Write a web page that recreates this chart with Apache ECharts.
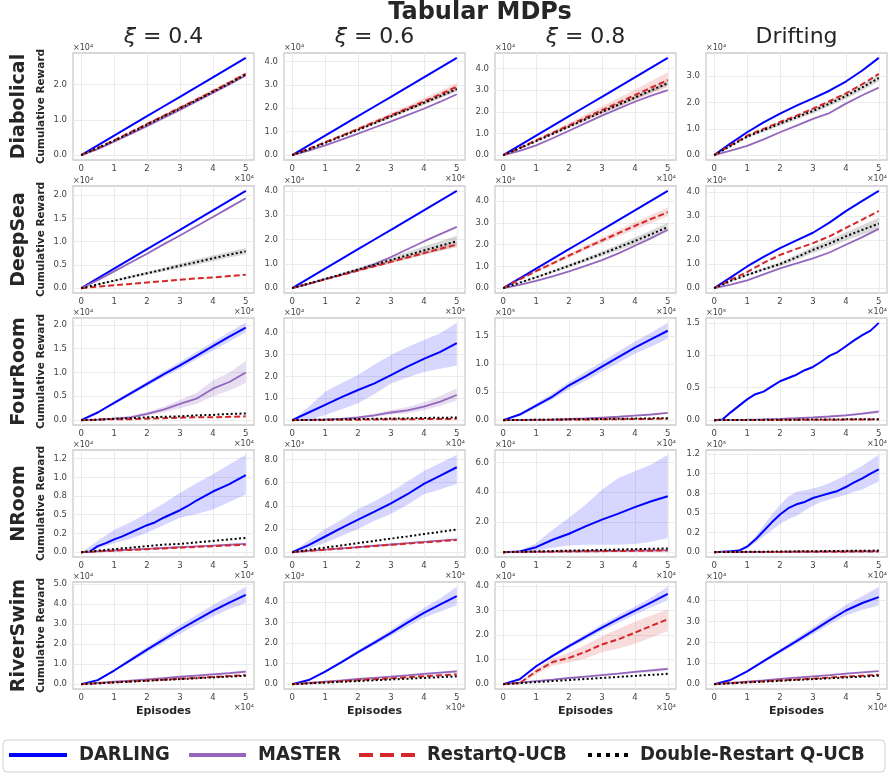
<!DOCTYPE html>
<html><head><meta charset="utf-8">
<script src="https://cdn.jsdelivr.net/npm/echarts@6/dist/echarts.min.js"></script>
<style>html,body{margin:0;padding:0;background:#fff}#c{width:888px;height:773px}</style>
</head><body><div id="c"></div>
<script>
// ---------- x grids (episodes) ----------
const EP11 = [0,5000,10000,15000,20000,25000,30000,35000,40000,45000,50000];
const EP21 = [0,2500,5000,7500,10000,12500,15000,17500,20000,22500,25000,27500,30000,32500,35000,37500,40000,42500,45000,47500,50000];
const X_TICKS = [0,10000,20000,30000,40000,50000];

const SERIES_NAMES = ['DARLING','MASTER','RestartQ-UCB','Double-Restart Q-UCB'];
const ROW_NAMES = ['Diabolical','DeepSea','FourRoom','NRoom','RiverSwim'];
const COL_TITLES = ['0.4','0.6','0.8','Drifting'];

// ---------- y tick sets (displayed units) ----------
const T_0_2 = [0,1,2];
const T_0_3 = [0,1,2,3];
const T_0_4 = [0,1,2,3,4];
const T_0_5 = [0,1,2,3,4,5];
const T_H_2 = [0,0.5,1,1.5,2];
const T_H_15 = [0,0.5,1,1.5];
const T_Q_125 = [0,0.25,0.5,0.75,1,1.25];
const T_E_8 = [0,2,4,6,8];
const T_E_6 = [0,2,4,6];

// ---------- Diabolical (x10^4) ----------
const diab04_darling = [0,0.275,0.55,0.825,1.1,1.375,1.65,1.925,2.2,2.475,2.75];
const diab04_master  = [0,0.17,0.38,0.6,0.82,1.05,1.28,1.52,1.76,2.0,2.25];
const diab04_restart = [0,0.2,0.42,0.65,0.88,1.11,1.34,1.57,1.81,2.05,2.3];
const diab04_double  = [0,0.2,0.41,0.63,0.86,1.09,1.32,1.55,1.79,2.03,2.28];
const diab04_restart_lo = [0,0.19,0.41,0.63,0.86,1.08,1.31,1.53,1.77,2.0,2.25];
const diab04_restart_hi = [0,0.21,0.43,0.67,0.9,1.14,1.37,1.61,1.85,2.1,2.35];

const diab06_darling = [0,0.415,0.83,1.245,1.66,2.075,2.49,2.905,3.32,3.735,4.15];
const diab06_master  = [0,0.19,0.42,0.66,0.92,1.18,1.44,1.71,1.98,2.28,2.6];
const diab06_restart = [0,0.27,0.55,0.83,1.12,1.41,1.7,1.99,2.29,2.6,2.92];
const diab06_double  = [0,0.25,0.52,0.8,1.08,1.36,1.65,1.94,2.23,2.52,2.82];
const diab06_restart_lo = [0,0.26,0.52,0.79,1.06,1.33,1.6,1.87,2.15,2.45,2.75];
const diab06_restart_hi = [0,0.28,0.58,0.87,1.18,1.49,1.8,2.11,2.43,2.75,3.08];
const diab06_double_lo = [0,0.24,0.5,0.77,1.04,1.31,1.59,1.87,2.15,2.43,2.72];
const diab06_double_hi = [0,0.26,0.54,0.83,1.12,1.41,1.71,2.01,2.31,2.61,2.92];

const diab08_darling = [0,0.45,0.9,1.35,1.8,2.25,2.7,3.15,3.6,4.05,4.5];
const diab08_master  = [0,0.2,0.45,0.78,1.13,1.48,1.83,2.15,2.47,2.75,3.01];
const diab08_restart = [0,0.33,0.68,1.03,1.38,1.73,2.08,2.43,2.78,3.13,3.48];
const diab08_double  = [0,0.32,0.65,0.98,1.32,1.66,2.0,2.33,2.66,3.0,3.33];
const diab08_restart_lo = [0,0.3,0.62,0.94,1.26,1.58,1.9,2.22,2.53,2.85,3.15];
const diab08_restart_hi = [0,0.36,0.74,1.12,1.5,1.88,2.26,2.64,3.03,3.43,3.83];
const diab08_double_lo = [0,0.31,0.62,0.94,1.27,1.6,1.93,2.25,2.57,2.9,3.22];
const diab08_double_hi = [0,0.33,0.68,1.02,1.37,1.72,2.07,2.41,2.75,3.1,3.44];

const diabDr_darling = [0,0.45,0.87,1.25,1.58,1.88,2.16,2.45,2.8,3.22,3.7];
const diabDr_master  = [0,0.17,0.35,0.6,0.87,1.12,1.38,1.6,1.96,2.28,2.57];
const diabDr_restart = [0,0.38,0.74,1.0,1.26,1.5,1.77,2.05,2.35,2.7,3.09];
const diabDr_double  = [0,0.35,0.7,0.95,1.2,1.44,1.68,1.96,2.25,2.58,2.93];
const diabDr_double_lo = [0,0.32,0.65,0.88,1.12,1.35,1.58,1.86,2.14,2.46,2.8];
const diabDr_double_hi = [0,0.38,0.75,1.02,1.28,1.53,1.78,2.06,2.36,2.7,3.06];

// ---------- DeepSea (x10^4) ----------
const deep04_darling = [0,0.209,0.418,0.627,0.836,1.045,1.254,1.463,1.672,1.881,2.09];
const deep04_master  = [0,0.17,0.36,0.55,0.74,0.94,1.13,1.33,1.53,1.73,1.93];
const deep04_restart = [0,0.03,0.06,0.09,0.12,0.15,0.18,0.21,0.23,0.26,0.29];
const deep04_double  = [0,0.08,0.16,0.24,0.32,0.4,0.48,0.56,0.64,0.72,0.79];
const deep04_double_lo = [0,0.07,0.14,0.21,0.29,0.36,0.43,0.5,0.58,0.66,0.73];
const deep04_double_hi = [0,0.09,0.18,0.27,0.35,0.44,0.53,0.62,0.7,0.78,0.86];

const deep06_darling = [0,0.4,0.8,1.2,1.6,2.0,2.4,2.8,3.2,3.6,4.0];
const deep06_master  = [0,0.18,0.37,0.55,0.74,0.99,1.28,1.6,1.92,2.22,2.52];
const deep06_restart = [0,0.18,0.36,0.54,0.72,0.9,1.08,1.26,1.44,1.62,1.79];
const deep06_double  = [0,0.19,0.38,0.57,0.77,0.96,1.16,1.35,1.55,1.74,1.93];
const deep06_restart_lo = [0,0.17,0.34,0.51,0.68,0.85,1.02,1.19,1.36,1.53,1.68];
const deep06_restart_hi = [0,0.19,0.38,0.57,0.76,0.95,1.14,1.33,1.52,1.71,1.9];
const deep06_double_lo = [0,0.17,0.35,0.52,0.7,0.87,1.04,1.21,1.38,1.55,1.72];
const deep06_double_hi = [0,0.21,0.41,0.62,0.84,1.05,1.28,1.49,1.72,1.93,2.15];

const deep08_darling = [0,0.447,0.894,1.341,1.788,2.235,2.682,3.129,3.576,4.023,4.47];
const deep08_master  = [0,0.15,0.33,0.54,0.77,1.02,1.29,1.6,1.95,2.3,2.68];
const deep08_restart = [0,0.4,0.78,1.14,1.5,1.85,2.19,2.53,2.86,3.18,3.49];
const deep08_double  = [0,0.25,0.5,0.76,1.03,1.3,1.58,1.87,2.17,2.48,2.81];
const deep08_restart_lo = [0,0.38,0.74,1.08,1.41,1.74,2.06,2.38,2.69,3.0,3.3];
const deep08_restart_hi = [0,0.42,0.82,1.2,1.58,1.95,2.32,2.68,3.03,3.37,3.7];
const deep08_double_lo = [0,0.23,0.46,0.7,0.95,1.2,1.46,1.73,2.01,2.3,2.6];
const deep08_double_hi = [0,0.27,0.54,0.82,1.11,1.4,1.7,2.01,2.33,2.66,3.0];

const deepDr_darling = [0,0.45,0.9,1.3,1.66,1.98,2.3,2.72,3.2,3.62,4.04];
const deepDr_master  = [0,0.15,0.32,0.57,0.82,1.03,1.24,1.48,1.8,2.12,2.46];
const deepDr_restart = [0,0.35,0.67,1.05,1.38,1.63,1.87,2.15,2.5,2.85,3.2];
const deepDr_double  = [0,0.3,0.55,0.78,1.0,1.28,1.59,1.85,2.15,2.42,2.68];
const deepDr_double_lo = [0,0.27,0.5,0.71,0.91,1.17,1.46,1.7,1.98,2.22,2.45];
const deepDr_double_hi = [0,0.33,0.6,0.85,1.09,1.39,1.72,2.0,2.32,2.62,2.92];

// ---------- FourRoom ----------
const four04_darling = [0,0.16,0.36,0.56,0.76,0.96,1.15,1.35,1.55,1.75,1.94];
const four04_master  = [0,0.01,0.03,0.06,0.13,0.22,0.34,0.45,0.66,0.8,1.0];
const four04_restart = [0,0.01,0.02,0.02,0.03,0.04,0.05,0.06,0.06,0.07,0.08];
const four04_double  = [0,0.01,0.03,0.04,0.06,0.07,0.08,0.1,0.11,0.13,0.14];
const four04_darling_lo = [0,0.14,0.33,0.52,0.71,0.9,1.08,1.27,1.46,1.65,1.84];
const four04_darling_hi = [0,0.18,0.39,0.6,0.81,1.02,1.22,1.43,1.64,1.85,2.04];
const four04_master_lo = [0,0.005,0.02,0.04,0.09,0.16,0.25,0.34,0.5,0.62,0.78];
const four04_master_hi = [0,0.02,0.05,0.09,0.17,0.28,0.43,0.57,0.83,1.0,1.24];

const four06_darling = [0,0.35,0.7,1.05,1.38,1.68,2.06,2.45,2.8,3.12,3.52];
const four06_master  = [0,0.01,0.03,0.06,0.12,0.22,0.35,0.45,0.62,0.85,1.15];
const four06_restart = [0,0.01,0.01,0.02,0.02,0.03,0.04,0.04,0.05,0.05,0.06];
const four06_double  = [0,0.01,0.02,0.04,0.05,0.06,0.07,0.08,0.1,0.11,0.12];
const four06_darling_lo = [0,0.02,0.23,0.5,0.77,1.2,1.68,1.95,2.2,2.35,2.5];
const four06_darling_hi = [0,0.6,1.3,1.7,2.06,2.55,2.98,3.35,3.67,3.98,4.45];
const four06_master_lo = [0,0.005,0.02,0.04,0.08,0.15,0.25,0.32,0.45,0.65,0.9];
const four06_master_hi = [0,0.02,0.05,0.09,0.17,0.3,0.46,0.6,0.82,1.1,1.45];

// (x10^5)
const four08_darling = [0,0.1,0.26,0.42,0.62,0.78,0.95,1.12,1.29,1.44,1.59];
const four08_master  = [0,0.002,0.005,0.01,0.02,0.03,0.045,0.06,0.08,0.1,0.13];
const four08_restart = [0,0.002,0.005,0.007,0.01,0.012,0.015,0.017,0.02,0.022,0.025];
const four08_double  = [0,0.003,0.007,0.01,0.014,0.017,0.021,0.024,0.028,0.031,0.035];
const four08_darling_lo = [0,0.07,0.22,0.37,0.55,0.7,0.86,1.02,1.18,1.31,1.45];
const four08_darling_hi = [0,0.12,0.3,0.48,0.68,0.86,1.04,1.22,1.4,1.56,1.73];

// (x10^5)
const fourDr_darling = [0,0.01,0.12,0.22,0.32,0.4,0.44,0.52,0.6,0.65,0.7,0.77,0.82,0.9,0.99,1.05,1.14,1.23,1.31,1.38,1.5];
const fourDr_master  = [0,0.003,0.007,0.012,0.02,0.03,0.042,0.056,0.075,0.1,0.13];
const fourDr_restart = [0,0.001,0.002,0.003,0.004,0.005,0.006,0.007,0.008,0.009,0.01];
const fourDr_double  = [0,0.0015,0.003,0.0045,0.006,0.0075,0.009,0.0105,0.012,0.0135,0.015];
const fourDr_master_lo = [0,0.002,0.005,0.009,0.015,0.023,0.033,0.045,0.06,0.08,0.105];
const fourDr_master_hi = [0,0.004,0.009,0.015,0.025,0.037,0.051,0.067,0.09,0.12,0.155];

// ---------- NRoom ----------
// (x10^4)
const nroom04_darling = [0,0.005,0.08,0.12,0.17,0.21,0.26,0.31,0.36,0.4,0.46,0.51,0.56,0.62,0.69,0.75,0.81,0.86,0.91,0.97,1.03];
const nroom04_master  = [0,0.011,0.022,0.033,0.044,0.055,0.066,0.077,0.088,0.099,0.11];
const nroom04_restart = [0,0.01,0.02,0.03,0.04,0.05,0.06,0.07,0.08,0.09,0.1];
const nroom04_double  = [0,0.02,0.04,0.06,0.08,0.1,0.11,0.13,0.15,0.17,0.19];
const nroom04_darling_lo = [0,0.05,0.12,0.18,0.26,0.36,0.46,0.51,0.57,0.67,0.77];
const nroom04_darling_hi = [0,0.15,0.3,0.4,0.52,0.65,0.79,0.92,1.04,1.17,1.3];

// (x10^3)
const nroom06_darling = [0,0.6,1.35,2.1,2.8,3.5,4.22,5.0,5.9,6.6,7.33];
const nroom06_master  = [0,0.11,0.22,0.33,0.44,0.55,0.66,0.77,0.88,0.99,1.1];
const nroom06_restart = [0,0.105,0.21,0.315,0.42,0.525,0.63,0.735,0.84,0.945,1.05];
const nroom06_double  = [0,0.19,0.39,0.58,0.78,0.97,1.17,1.36,1.56,1.75,1.95];
const nroom06_darling_lo = [0,0.3,0.8,1.4,2.0,2.7,3.3,4.1,5.0,5.4,5.9];
const nroom06_darling_hi = [0,1.0,2.0,2.8,3.7,4.4,5.2,6.1,7.0,7.7,8.4];

// (x10^4)
const nroom08_darling = [0,0.04,0.33,0.83,1.23,1.72,2.17,2.57,3.01,3.4,3.73];
const nroom08_master  = [0,0.012,0.024,0.036,0.048,0.06,0.072,0.084,0.096,0.108,0.12];
const nroom08_restart = [0,0.011,0.022,0.033,0.044,0.055,0.066,0.077,0.088,0.099,0.11];
const nroom08_double  = [0,0.025,0.05,0.075,0.1,0.125,0.15,0.175,0.2,0.225,0.25];
const nroom08_darling_lo = [0,0,0.1,0.3,0.45,0.5,0.5,0.5,0.55,0.7,0.94];
const nroom08_darling_hi = [0,0.1,0.6,1.5,2.3,3.17,4.17,4.96,5.4,5.85,6.5];

// (x10^5)
const nroomDr_darling = [0,0.005,0.01,0.02,0.07,0.16,0.27,0.38,0.48,0.56,0.61,0.64,0.69,0.72,0.75,0.78,0.83,0.89,0.94,1.0,1.055];
const nroomDr_master  = [0,0.001,0.002,0.003,0.004,0.005,0.006,0.007,0.008,0.009,0.01];
const nroomDr_restart = [0,0.0008,0.0016,0.0024,0.0032,0.004,0.0048,0.0056,0.0064,0.0072,0.008];
const nroomDr_double  = [0,0.002,0.004,0.006,0.008,0.01,0.012,0.014,0.016,0.018,0.02];
const nroomDr_darling_lo = [0,0,0,0,0.05,0.12,0.2,0.28,0.36,0.42,0.46,0.53,0.59,0.64,0.67,0.7,0.73,0.77,0.8,0.85,0.9];
const nroomDr_darling_hi = [0,0.01,0.02,0.03,0.09,0.2,0.34,0.48,0.6,0.71,0.77,0.79,0.81,0.84,0.88,0.93,0.98,1.04,1.1,1.17,1.24];

// ---------- RiverSwim (x10^4) ----------
const river04_darling = [0,0.2,0.68,1.2,1.72,2.22,2.73,3.2,3.66,4.07,4.46];
const river04_master  = [0,0.06,0.12,0.18,0.24,0.3,0.37,0.43,0.49,0.55,0.62];
const river04_restart = [0,0.045,0.09,0.135,0.18,0.225,0.27,0.315,0.36,0.405,0.45];
const river04_double  = [0,0.042,0.084,0.126,0.168,0.21,0.252,0.294,0.336,0.378,0.42];
const river04_darling_lo = [0,0.18,0.62,1.1,1.58,2.05,2.52,2.96,3.38,3.75,4.06];
const river04_darling_hi = [0,0.22,0.74,1.3,1.86,2.4,2.94,3.45,3.95,4.4,4.86];
const river04_master_lo = [0,0.055,0.11,0.16,0.22,0.27,0.33,0.39,0.44,0.49,0.55];
const river04_master_hi = [0,0.065,0.13,0.2,0.26,0.33,0.41,0.47,0.54,0.61,0.69];

const river06_darling = [0,0.2,0.61,1.08,1.56,2.03,2.5,3.0,3.48,3.9,4.3];
const river06_master  = [0,0.06,0.12,0.18,0.25,0.31,0.37,0.43,0.5,0.56,0.62];
const river06_restart = [0,0.048,0.096,0.144,0.192,0.24,0.288,0.336,0.384,0.432,0.48];
const river06_double  = [0,0.038,0.076,0.114,0.152,0.19,0.228,0.266,0.304,0.342,0.38];
const river06_darling_lo = [0,0.18,0.57,1.02,1.47,1.91,2.35,2.8,3.24,3.55,3.85];
const river06_darling_hi = [0,0.22,0.65,1.14,1.65,2.15,2.65,3.2,3.72,4.2,4.75];
const river06_master_lo = [0,0.055,0.11,0.16,0.22,0.27,0.33,0.39,0.44,0.49,0.55];
const river06_master_hi = [0,0.065,0.13,0.2,0.26,0.33,0.41,0.47,0.54,0.61,0.69];

const river08_darling = [0,0.2,0.73,1.15,1.55,1.93,2.31,2.66,3.0,3.34,3.68];
const river08_master  = [0,0.06,0.12,0.18,0.25,0.31,0.37,0.43,0.5,0.56,0.62];
const river08_restart = [0,0.04,0.52,0.9,1.07,1.32,1.62,1.83,2.1,2.38,2.65];
const river08_double  = [0,0.042,0.084,0.126,0.168,0.21,0.252,0.294,0.336,0.378,0.42];
const river08_darling_lo = [0,0.18,0.68,1.08,1.46,1.82,2.18,2.51,2.83,3.14,3.42];
const river08_darling_hi = [0,0.22,0.78,1.22,1.64,2.04,2.44,2.81,3.17,3.54,3.97];
const river08_restart_lo = [0,0,0.4,0.75,0.88,1.05,1.3,1.45,1.65,1.9,2.17];
const river08_restart_hi = [0,0.08,0.62,1.05,1.28,1.6,1.95,2.25,2.55,2.8,3.05];
const river08_master_lo = [0,0.055,0.11,0.16,0.22,0.27,0.33,0.39,0.44,0.49,0.55];
const river08_master_hi = [0,0.065,0.13,0.2,0.26,0.33,0.41,0.47,0.54,0.61,0.69];

const riverDr_darling = [0,0.2,0.61,1.1,1.58,2.06,2.55,3.05,3.52,3.88,4.16];
const riverDr_master  = [0,0.06,0.12,0.18,0.25,0.31,0.37,0.43,0.5,0.56,0.62];
const riverDr_restart = [0,0.045,0.09,0.135,0.18,0.225,0.27,0.315,0.36,0.405,0.45];
const riverDr_double  = [0,0.04,0.08,0.12,0.16,0.2,0.24,0.28,0.32,0.36,0.4];
const riverDr_darling_lo = [0,0.18,0.57,1.03,1.48,1.93,2.38,2.85,3.28,3.55,3.76];
const riverDr_darling_hi = [0,0.22,0.65,1.17,1.68,2.19,2.72,3.25,3.78,4.2,4.65];

// ---------- panel list (row-major) ----------
const PANELS = [
  {lines:[diab04_darling,diab04_master,diab04_restart,diab04_double], bands:[[2,diab04_restart_lo,diab04_restart_hi]], yt:T_0_2, exp:'4'},
  {lines:[diab06_darling,diab06_master,diab06_restart,diab06_double], bands:[[2,diab06_restart_lo,diab06_restart_hi],[3,diab06_double_lo,diab06_double_hi]], yt:T_0_4, exp:'4'},
  {lines:[diab08_darling,diab08_master,diab08_restart,diab08_double], bands:[[2,diab08_restart_lo,diab08_restart_hi],[3,diab08_double_lo,diab08_double_hi]], yt:T_0_4, exp:'4'},
  {lines:[diabDr_darling,diabDr_master,diabDr_restart,diabDr_double], bands:[[3,diabDr_double_lo,diabDr_double_hi]], yt:T_0_3, exp:'4'},

  {lines:[deep04_darling,deep04_master,deep04_restart,deep04_double], bands:[[3,deep04_double_lo,deep04_double_hi]], yt:T_H_2, exp:'4'},
  {lines:[deep06_darling,deep06_master,deep06_restart,deep06_double], bands:[[2,deep06_restart_lo,deep06_restart_hi],[3,deep06_double_lo,deep06_double_hi]], yt:T_0_4, exp:'4'},
  {lines:[deep08_darling,deep08_master,deep08_restart,deep08_double], bands:[[2,deep08_restart_lo,deep08_restart_hi],[3,deep08_double_lo,deep08_double_hi]], yt:T_0_4, exp:'4'},
  {lines:[deepDr_darling,deepDr_master,deepDr_restart,deepDr_double], bands:[[3,deepDr_double_lo,deepDr_double_hi]], yt:T_0_4, exp:'4'},

  {lines:[four04_darling,four04_master,four04_restart,four04_double], bands:[[0,four04_darling_lo,four04_darling_hi],[1,four04_master_lo,four04_master_hi]], yt:T_H_2, exp:'4'},
  {lines:[four06_darling,four06_master,four06_restart,four06_double], bands:[[0,four06_darling_lo,four06_darling_hi],[1,four06_master_lo,four06_master_hi]], yt:T_0_4, exp:'4'},
  {lines:[four08_darling,four08_master,four08_restart,four08_double], bands:[[0,four08_darling_lo,four08_darling_hi]], yt:T_H_15, exp:'5'},
  {lines:[fourDr_darling,fourDr_master,fourDr_restart,fourDr_double], bands:[[1,fourDr_master_lo,fourDr_master_hi]], yt:T_H_15, exp:'5'},

  {lines:[nroom04_darling,nroom04_master,nroom04_restart,nroom04_double], bands:[[0,nroom04_darling_lo,nroom04_darling_hi]], yt:T_Q_125, exp:'4'},
  {lines:[nroom06_darling,nroom06_master,nroom06_restart,nroom06_double], bands:[[0,nroom06_darling_lo,nroom06_darling_hi]], yt:T_E_8, exp:'3'},
  {lines:[nroom08_darling,nroom08_master,nroom08_restart,nroom08_double], bands:[[0,nroom08_darling_lo,nroom08_darling_hi]], yt:T_E_6, exp:'4'},
  {lines:[nroomDr_darling,nroomDr_master,nroomDr_restart,nroomDr_double], bands:[[0,nroomDr_darling_lo,nroomDr_darling_hi]], yt:T_Q_125, exp:'5'},

  {lines:[river04_darling,river04_master,river04_restart,river04_double], bands:[[0,river04_darling_lo,river04_darling_hi],[1,river04_master_lo,river04_master_hi]], yt:T_0_5, exp:'4'},
  {lines:[river06_darling,river06_master,river06_restart,river06_double], bands:[[0,river06_darling_lo,river06_darling_hi],[1,river06_master_lo,river06_master_hi]], yt:T_0_4, exp:'4'},
  {lines:[river08_darling,river08_master,river08_restart,river08_double], bands:[[0,river08_darling_lo,river08_darling_hi],[2,river08_restart_lo,river08_restart_hi],[1,river08_master_lo,river08_master_hi]], yt:T_0_4, exp:'4'},
  {lines:[riverDr_darling,riverDr_master,riverDr_restart,riverDr_double], bands:[[0,riverDr_darling_lo,riverDr_darling_hi]], yt:T_0_4, exp:'4'}
];

// ---------- styles & layout ----------
const COLORS = ['#0000ff','#9467bd','#d62728','#000000'];
const BAND_COLORS = ['rgba(0,0,255,0.16)','rgba(148,103,189,0.22)','rgba(214,39,40,0.17)','rgba(0,0,0,0.15)'];
const LINE_TYPES = ['solid','solid',[6,3],[2,2.4]];
const LINE_WIDTHS = [2,1.8,2,2];
const LEFTS = [73,284,495,706], TOPS = [53,186,318,450,582], GW = 181, GH = 107;
const FONT = 'DejaVu Sans';
const TXT = '#262626';
const SUP = {'3':'³','4':'⁴','5':'⁵'};

function xsFor(arr){ return arr.length === 21 ? EP21 : EP11; }
function pairs(arr){ const xs = xsFor(arr); return arr.map((v,i)=>[xs[i], v]); }
function fmt1(v){
  const r = v*10, f = Math.floor(r+1e-9);
  let n;
  if (Math.abs(r-f-0.5) < 1e-6) n = (f%2===0) ? f : f+1; else n = Math.round(r);
  return (n/10).toFixed(1);
}

const grids=[], xAxes=[], yAxes=[], series=[], graphics=[];

PANELS.forEach((p,k)=>{
  const r = Math.floor(k/4), c = k%4;
  grids.push({left:LEFTS[c], top:TOPS[r], width:GW, height:GH, show:true,
    borderColor:'#cccccc', borderWidth:1.3, backgroundColor:'#ffffff', containLabel:false, outerBoundsMode:'none'});
  let all = [];
  p.lines.forEach(a=>all=all.concat(a));
  p.bands.forEach(b=>{all=all.concat(b[1]); all=all.concat(b[2]);});
  const dmin = Math.min(...all), dmax = Math.max(...all);
  const pad = (dmax-dmin)*0.05;
  xAxes.push({gridIndex:k, type:'value', min:-2500, max:52500,
    axisLine:{show:false}, axisTick:{show:false, customValues:X_TICKS},
    axisLabel:{customValues:X_TICKS, formatter:v=>String(Math.round(v/10000)), fontSize:8.5, color:'#444', margin:4, fontFamily:FONT},
    splitLine:{show:true, lineStyle:{color:'#ebebeb', width:1}}});
  yAxes.push({gridIndex:k, type:'value', min:dmin-pad, max:dmax+pad,
    axisLine:{show:false}, axisTick:{show:false, customValues:p.yt},
    axisLabel:{customValues:p.yt, formatter:fmt1, fontSize:8.5, color:'#444', margin:6, fontFamily:FONT},
    splitLine:{show:true, lineStyle:{color:'#ebebeb', width:1}}});
  // bands: one polygon per band, through the axis scales (api.coord)
  p.bands.forEach((b)=>{
    const s = b[0], lo = b[1], hi = b[2];
    const xs = xsFor(lo);
    series.push({type:'custom', xAxisIndex:k, yAxisIndex:k, silent:true, z:1, clip:true,
      encode:{x:0, y:[1,2]},
      data: lo.map((v,i)=>[xs[i], v, hi[i]]),
      renderItem:(params, api)=>{
        if (params.dataIndexInside !== 0) return null;
        const pts = [];
        for (let i=0;i<xs.length;i++) pts.push(api.coord([xs[i], hi[i]]));
        for (let i=xs.length-1;i>=0;i--) pts.push(api.coord([xs[i], lo[i]]));
        return {type:'polygon', shape:{points:pts}, style:{fill:BAND_COLORS[s], stroke:null}};
      }});
  });
  // lines
  p.lines.forEach((a,s)=>{
    series.push({type:'line', name:SERIES_NAMES[s], xAxisIndex:k, yAxisIndex:k, symbol:'none', silent:true,
      z:2+s, color:COLORS[s],
      lineStyle:{color:COLORS[s], width:LINE_WIDTHS[s], type:LINE_TYPES[s], cap:'butt'},
      data: pairs(a)});
  });
  // offset texts
  graphics.push({type:'text', silent:true, x:LEFTS[c], y:TOPS[r]-5,
    style:{text:'×10'+SUP[p.exp], fill:'#444', fontSize:8, fontFamily:FONT, textAlign:'left', textVerticalAlign:'middle'}});
  graphics.push({type:'text', silent:true, x:LEFTS[c]+GW, y:TOPS[r]+GH+19,
    style:{text:'×10⁴', fill:'#444', fontSize:8, fontFamily:FONT, textAlign:'right', textVerticalAlign:'middle'}});
});

// title
graphics.push({type:'text', silent:true, x:480, y:13,
  style:{text:'Tabular MDPs', fill:TXT, fontSize:24, fontWeight:'bold', fontFamily:FONT, textAlign:'center', textVerticalAlign:'middle'}});
// column titles
COL_TITLES.forEach((t,c)=>{
  const isXi = t !== 'Drifting';
  graphics.push({type:'text', silent:true, x:LEFTS[c]+GW/2, y:37,
    style:{text: isXi ? '{i|ξ} = '+t : t, fill:TXT, fontSize:22, fontFamily:FONT, textAlign:'center', textVerticalAlign:'middle',
      rich:{i:{fontStyle:'italic', fontSize:22, fontFamily:FONT, fill:TXT}}}});
});
// row labels
ROW_NAMES.forEach((n,r)=>{
  const cy = TOPS[r]+GH/2;
  graphics.push({type:'text', silent:true, x:19, y:cy, rotation:Math.PI/2,
    style:{text:n, fill:TXT, fontSize:19, fontWeight:'bold', fontFamily:FONT, textAlign:'center', textVerticalAlign:'middle'}});
  graphics.push({type:'text', silent:true, x:41, y:cy, rotation:Math.PI/2,
    style:{text:'Cumulative Reward', fill:TXT, fontSize:10.5, fontWeight:'bold', fontFamily:FONT, textAlign:'center', textVerticalAlign:'middle'}});
});
// x axis names
LEFTS.forEach(l=>{
  graphics.push({type:'text', silent:true, x:l+GW/2, y:711,
    style:{text:'Episodes', fill:TXT, fontSize:11, fontWeight:'bold', fontFamily:FONT, textAlign:'center', textVerticalAlign:'middle'}});
});
// legend frame
graphics.push({type:'rect', silent:true, z:-1, shape:{x:3, y:740, width:882, height:32, r:4},
  style:{fill:'none', stroke:'#d0d0d0', lineWidth:1}});

const LEG_POS = [7,187,357,586];
const LEG_W = [58,57,56,40];
const LEG_DASH = ['solid','solid',[14,7],[4,5]];
const legends = SERIES_NAMES.map((n,i)=>({
  left:LEG_POS[i], top:745, padding:0, itemWidth:LEG_W[i], itemHeight:20, selectedMode:false,
  data:[n], itemStyle:{opacity:0},
  lineStyle:{width:4, type:LEG_DASH[i], color:COLORS[i], cap:'butt'},
  textStyle:{fontSize:20, fontWeight:'bold', fontFamily:"'DejaVu Sans Condensed','Liberation Sans Narrow','DejaVu Sans'", color:TXT, padding:[0,0,0,7]}
}));

const chart = echarts.init(document.getElementById('c'), null, {renderer:'canvas'});
chart.setOption({
  animation:false,
  backgroundColor:'#ffffff',
  grid:grids, xAxis:xAxes, yAxis:yAxes, series:series,
  legend:legends,
  graphic:{elements:graphics}
});
</script></body></html>
